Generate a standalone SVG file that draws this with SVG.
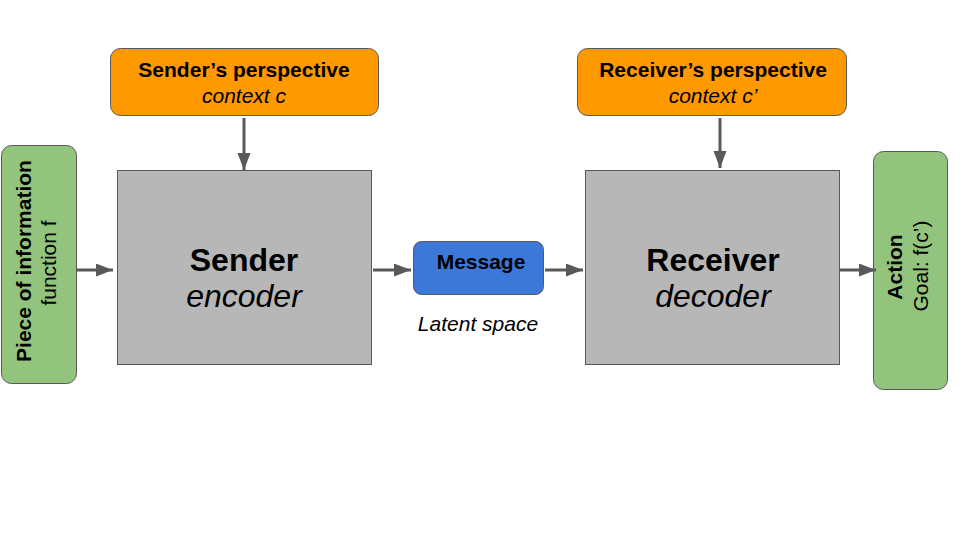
<svg xmlns="http://www.w3.org/2000/svg" width="960" height="540" viewBox="0 0 960 540">
<style>
text{font-family:"Liberation Sans",Arial,sans-serif;fill:#000}
.b{font-weight:bold}
.i{font-style:italic}
.orange{fill:#ff9900;stroke:#595959;stroke-width:1}
.green{fill:#93c47d;stroke:#595959;stroke-width:1}
.gray{fill:#b7b7b7;stroke:#595959;stroke-width:1}
.blue{fill:#3c78d8;stroke:#595959;stroke-width:1}
.conn line{stroke:#595959;stroke-width:3;marker-end:url(#ah)}
</style>
<defs>
<marker id="ah" markerUnits="userSpaceOnUse" markerWidth="18" markerHeight="14" refX="17" refY="6.5" orient="auto">
<path d="M0,0 L17,6.5 L0,13 z" fill="#595959"/>
</marker>
</defs>
<rect width="960" height="540" fill="#fff"/>
<g id="sender-perspective">
<rect class="orange" x="110.5" y="48.5" width="268" height="67" rx="10"/>
<text class="b" x="244" y="77" font-size="21" text-anchor="middle">Sender’s perspective</text>
<text class="i" x="244" y="103" font-size="21" text-anchor="middle">context c</text>
</g>
<g id="receiver-perspective">
<rect class="orange" x="577.5" y="48.5" width="269" height="67" rx="10"/>
<text class="b" x="713" y="77" font-size="21" text-anchor="middle">Receiver’s perspective</text>
<text class="i" x="713" y="103" font-size="21" text-anchor="middle">context c’</text>
</g>
<g id="piece-of-information">
<rect class="green" x="1.5" y="145.5" width="75" height="238" rx="10"/>
<text class="b" font-size="21" text-anchor="middle" transform="translate(31,261) rotate(-90)">Piece of information</text>
<text font-size="21" text-anchor="middle" transform="translate(56,263) rotate(-90)">function f</text>
</g>
<g id="sender">
<rect class="gray" x="117.5" y="170.5" width="254" height="194"/>
<text class="b" x="244" y="271" font-size="32" text-anchor="middle">Sender</text>
<text class="i" x="244" y="307" font-size="32" text-anchor="middle">encoder</text>
</g>
<g id="message">
<rect class="blue" x="413.5" y="241.5" width="130" height="53" rx="8"/>
<text class="b" x="481" y="269" font-size="21" text-anchor="middle">Message</text>
</g>
<g id="latent-space">
<text class="i" x="478" y="331" font-size="21" text-anchor="middle">Latent space</text>
</g>
<g id="receiver">
<rect class="gray" x="585.5" y="170.5" width="254" height="194"/>
<text class="b" x="713" y="271" font-size="32" text-anchor="middle">Receiver</text>
<text class="i" x="713" y="307" font-size="32" text-anchor="middle">decoder</text>
</g>
<g id="action">
<rect class="green" x="873.5" y="151.5" width="74" height="238" rx="10"/>
<text class="b" font-size="21" text-anchor="middle" transform="translate(902,267) rotate(-90)">Action</text>
<text font-size="21" text-anchor="middle" transform="translate(928,266) rotate(-90)">Goal: f(c’)</text>
</g>
<g id="connectors" class="conn">
<line x1="77" y1="270" x2="113" y2="270"/>
<line x1="373" y1="270" x2="411" y2="270"/>
<line x1="545" y1="270" x2="583" y2="270"/>
<line x1="840" y1="270" x2="876" y2="270"/>
<line x1="244" y1="118" x2="244" y2="170"/>
<line x1="720" y1="118" x2="720" y2="168"/>
</g>
</svg>
